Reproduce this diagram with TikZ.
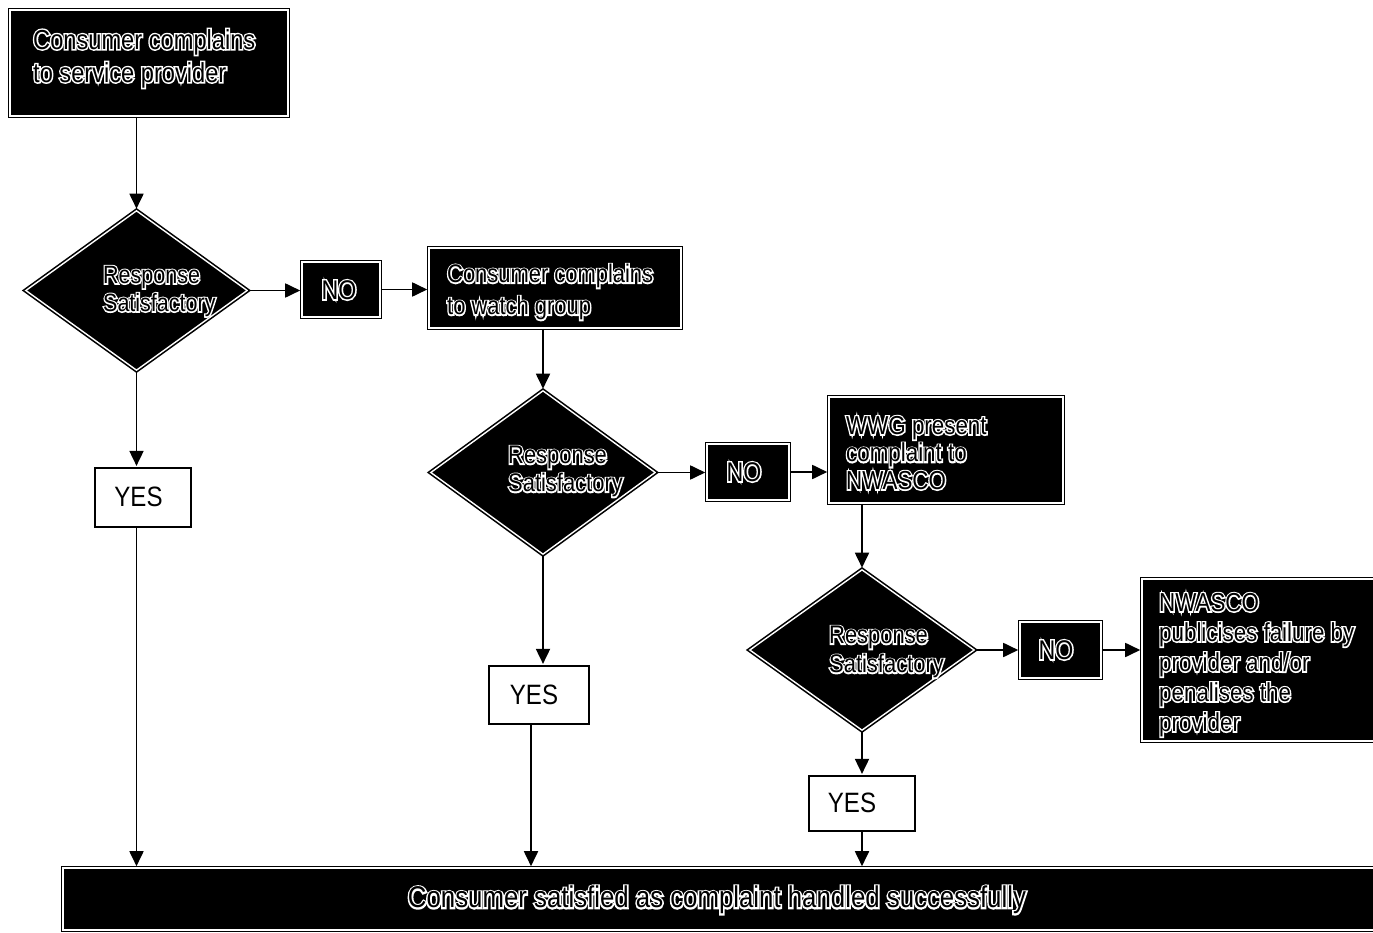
\documentclass[tikz,border=0pt]{standalone}
\usepackage{fontspec}
\setmainfont{Liberation Sans}[FakeStretch=0.86]
\newfontfamily\fatfam{Liberation Sans}[FakeStretch=0.86,FakeBold=11]
\usetikzlibrary{shapes.geometric,arrows.meta}
\tikzset{
  blk/.style={draw=black, line width=1.6pt, double=white, double distance=1.4pt, fill=black, inner sep=0pt},
  dia/.style={blk, shape=diamond},
  yesbox/.style={draw=black, line width=2.2pt, fill=white, inner sep=0pt},
  arr/.style={line width=1.8pt, -{Triangle[length=15pt,width=14pt]}, shorten >=1pt},
  yestext/.style={inner sep=0pt, font=\fontsize{28}{28}\selectfont},
}
\newcommand\otext[6]{%
  \node[inner sep=0pt, text=white, font=\fatfam\fontsize{#2}{#3}\selectfont, #4] (#1u) at #5 {#6};
  \node[inner sep=0pt, text=black, font=\rmfamily\fontsize{#2}{#3}\selectfont, #4] (#1) at #5 {#6};
}
\begin{document}
\begin{tikzpicture}[x=1pt,y=-1pt]
\path[use as bounding box] (0,0) rectangle (1373,933);
\fill[white] (0,0) rectangle (1373,933);
\clip (0,0) rectangle (1373,933);
% boxes
\node[blk, minimum width=278pt, minimum height=106pt] (b1) at (149,63) {};
\node[dia, minimum width=222pt, minimum height=160pt] (d1) at (136.5,290.5) {};
\node[blk, minimum width=78pt, minimum height=55pt] (n1) at (341,289.5) {};
\node[blk, minimum width=252pt, minimum height=80pt] (b2) at (555,288) {};
\node[dia, minimum width=225pt, minimum height=164pt] (d2) at (543,472.5) {};
\node[blk, minimum width=82pt, minimum height=56pt] (n2) at (748,472) {};
\node[blk, minimum width=234pt, minimum height=106pt] (b3) at (946,450) {};
\node[dia, minimum width=225pt, minimum height=161pt] (d3) at (862,650) {};
\node[blk, minimum width=81pt, minimum height=56pt] (n3) at (1060.5,650) {};
\node[blk, minimum width=246pt, minimum height=162pt] (b4) at (1265,660) {};
\node[yesbox, minimum width=96pt, minimum height=59pt] (y1) at (143,497.5) {};
\node[yesbox, minimum width=100pt, minimum height=58pt] (y2) at (539,695) {};
\node[yesbox, minimum width=106pt, minimum height=55pt] (y3) at (862,803.5) {};
\node[blk, minimum width=1326pt, minimum height=62pt] (bar) at (726,899) {};
% connectors
\draw[arr] (d1.north |- b1.south) -- (d1.north);
\draw[arr] (d1.east) -- (d1.east -| n1.west);
\draw[arr] (n1.east) -- (n1.east -| b2.west);
\draw[arr] (d2.north |- b2.south) -- (d2.north);
\draw[arr] (d2.east) -- (d2.east -| n2.west);
\draw[arr] (n2.east) -- (n2.east -| b3.west);
\draw[arr] (d3.north |- b3.south) -- (d3.north);
\draw[arr] (d3.east) -- (d3.east -| n3.west);
\draw[arr] (n3.east) -- (n3.east -| b4.west);
\draw[arr] (d1.south) -- (d1.south |- y1.north);
\draw[arr] (d1.south |- y1.south) -- (d1.south |- bar.north);
\draw[arr] (d2.south) -- (d2.south |- y2.north);
\draw[arr] ([xshift=-8pt]y2.south) -- ([xshift=-8pt]y2.south |- bar.north);
\draw[arr] (d3.south) -- (d3.south |- y3.north);
\draw[arr] (d3.south |- y3.south) -- (d3.south |- bar.north);
% texts
\otext{t1}{27.5}{33}{anchor=north west, align=left}{(33,29)}{Consumer complains\\to service provider}
\otext{t2}{25.5}{32}{anchor=north west, align=left}{(447,264)}{Consumer complains\\to watch group}
\otext{t3}{26}{27.5}{anchor=north west, align=left}{(846,416)}{WWG present\\complaint to\\NWASCO}
\otext{t4}{26}{30}{anchor=north west, align=left}{(1159,593)}{NWASCO\\publicises failure by\\provider and/or\\penalises the\\provider}
\otext{r1}{25}{28}{anchor=north west, align=left}{(103,266)}{Response\\Satisfactory}
\otext{r2}{25.5}{28}{anchor=north west, align=left}{(508,446)}{Response\\Satisfactory}
\otext{r3}{25.5}{29}{anchor=north west, align=left}{(829,626)}{Response\\Satisfactory}
\otext{o1}{27}{27}{anchor=center}{(339,290)}{NO}
\otext{o2}{27}{27}{anchor=center}{(744,472)}{NO}
\otext{o3}{27}{27}{anchor=center}{(1056,650)}{NO}
\otext{tb}{30}{30}{anchor=center}{(717,900)}{Consumer satisfied as complaint handled successfully}
\node[yestext] (y1t) at (138.5,497) {YES};
\node[yestext] (y2t) at (534,695) {YES};
\node[yestext] (y3t) at (852,803) {YES};
\end{tikzpicture}
\end{document}
